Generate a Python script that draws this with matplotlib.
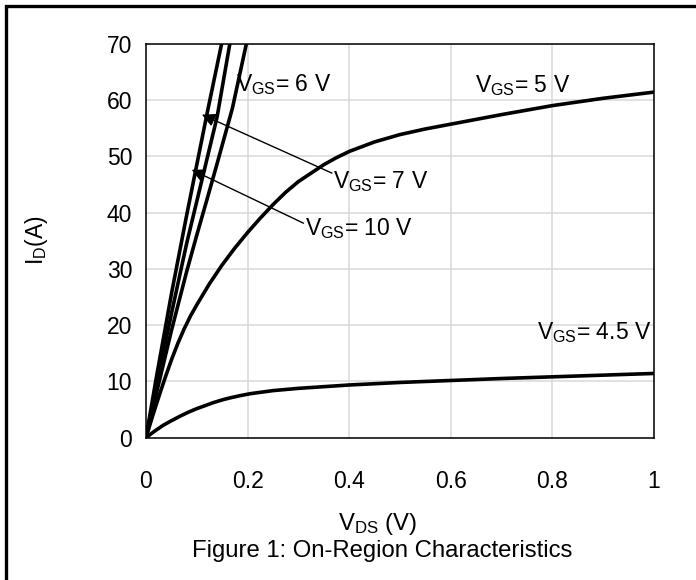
import matplotlib
matplotlib.use("Agg")
import matplotlib.pyplot as plt
from matplotlib.patches import Rectangle

plt.rcParams["font.family"] = ["Liberation Sans", "DejaVu Sans"]
plt.rcParams["mathtext.fontset"] = "custom"
plt.rcParams["mathtext.rm"] = "Liberation Sans"
plt.rcParams["mathtext.it"] = "Liberation Sans:italic"

# Drain current I_D (A) versus drain-source voltage V_DS (V) for each gate drive
vds_10v = [0, 0.02, 0.05, 0.08, 0.10, 0.12, 0.15]
id_10v = [0, 10.5, 25.5, 39.5, 48.5, 57.5, 70.5]

vds_7v = [0, 0.02, 0.05, 0.08, 0.10, 0.12, 0.14, 0.166]
id_7v = [0, 9.0, 22.0, 34.5, 42.0, 49.5, 57.0, 70.5]

vds_6v = [0, 0.02, 0.05, 0.08, 0.10, 0.12, 0.14, 0.17, 0.20]
id_6v = [0, 7.7, 19.0, 29.5, 36.0, 42.3, 48.7, 58.5, 71.0]

vds_5v = [0, 0.0125, 0.025, 0.0375, 0.05, 0.0625, 0.075, 0.0875, 0.10,
          0.125, 0.15, 0.175, 0.20, 0.225, 0.25, 0.275, 0.30, 0.325, 0.35,
          0.375, 0.40, 0.45, 0.50, 0.55, 0.60, 0.70, 0.80, 0.90, 1.00]
id_5v = [0, 3.7, 7.2, 10.6, 13.8, 16.7, 19.3, 21.6, 23.6,
         27.35, 30.7, 33.7, 36.45, 39.0, 41.4, 43.6, 45.5, 47.0, 48.5,
         49.75, 50.85, 52.55, 53.85, 54.85, 55.7, 57.4, 59.0, 60.3, 61.4]

vds_45v = [0, 0.017, 0.034, 0.05, 0.067, 0.083, 0.10, 0.117, 0.132, 0.15,
           0.165, 0.185, 0.205, 0.25, 0.30, 0.35, 0.40, 0.50, 0.60, 0.70,
           0.80, 0.90, 1.00]
id_45v = [0, 1.15, 2.2, 3.0, 3.8, 4.5, 5.15, 5.7, 6.2, 6.7,
          7.05, 7.45, 7.8, 8.35, 8.75, 9.05, 9.35, 9.8, 10.15, 10.5,
          10.8, 11.1, 11.4]

x_ticks = [0, 0.2, 0.4, 0.6, 0.8, 1]
x_tick_labels = ["0", "0.2", "0.4", "0.6", "0.8", "1"]
y_ticks = [0, 10, 20, 30, 40, 50, 60, 70]

FS = 16.5
FS_TITLE = 17.2

fig = plt.figure(figsize=(6.96, 5.8), dpi=100)
ax = fig.add_axes([146 / 696, 1 - 437.6 / 580, 508 / 696, 393.9 / 580])

curve_kw = dict(color="black", lw=2.6, solid_capstyle="butt",
                solid_joinstyle="round")
for v, i in [(vds_45v, id_45v), (vds_5v, id_5v), (vds_6v, id_6v),
             (vds_7v, id_7v), (vds_10v, id_10v)]:
    ax.plot(v, i, **curve_kw)

ax.set_xlim(0, 1)
ax.set_ylim(0, 70)
ax.set_xticks(x_ticks)
ax.set_xticklabels(x_tick_labels)
ax.set_yticks(y_ticks)
ax.grid(True, color="#d9d9d9", lw=1.1)
ax.set_axisbelow(True)
ax.tick_params(axis="both", length=0, labelsize=FS)
ax.tick_params(axis="x", pad=23.5)
ax.tick_params(axis="y", pad=10)
for s in ax.spines.values():
    s.set_linewidth(1.1)
    s.set_color("black")

fig.text(37 / 696, 1 - 240 / 580, r"I$_{\mathrm{D}}$(A)", fontsize=FS,
         rotation=90, ha="center", va="center")
fig.text(378 / 696, 1 - 524 / 580, r"V$_{\mathrm{DS}}$ (V)", fontsize=FS_TITLE,
         ha="center", va="center")
fig.text(382 / 696, 1 - 551 / 580, "Figure 1: On-Region Characteristics",
         fontsize=FS_TITLE, ha="center", va="center")

lab_kw = dict(fontsize=FS, ha="left", va="center")
ax.text(0.178, 62.7, r"V$_{\mathrm{GS}}$= 6 V", **lab_kw)
ax.text(0.648, 62.6, r"V$_{\mathrm{GS}}$= 5 V", **lab_kw)
ax.text(0.369, 45.5, r"V$_{\mathrm{GS}}$= 7 V", **lab_kw)
ax.text(0.313, 37.2, r"V$_{\mathrm{GS}}$= 10 V", **lab_kw)
ax.text(0.769, 18.7, r"V$_{\mathrm{GS}}$= 4.5 V", **lab_kw)

arrow_kw = dict(arrowstyle="-|>", color="black", lw=1.0, mutation_scale=20,
                shrinkA=0, shrinkB=0)
ax.annotate("", xy=(0.110, 57.4), xytext=(0.366, 47.0), arrowprops=arrow_kw)
ax.annotate("", xy=(0.090, 47.6), xytext=(0.310, 38.1), arrowprops=arrow_kw)

# Page frame around the figure
fig.patches.append(Rectangle((5.5 / 696, -0.2), 1.5, 1.2 - 5.5 / 580,
                             transform=fig.transFigure, fill=False,
                             edgecolor="black", lw=2.4, clip_on=False))

fig.savefig("out.png", dpi=100)
